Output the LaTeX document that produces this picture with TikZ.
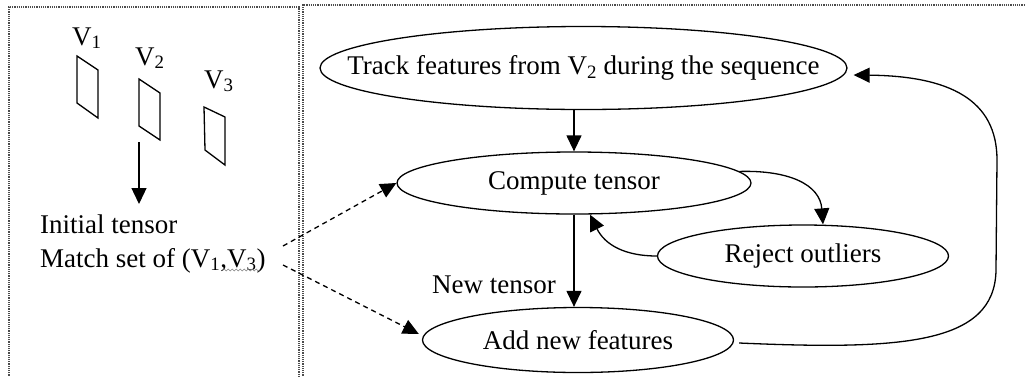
\documentclass[tikz,border=0pt]{standalone}
\usepackage{fontspec}
\setmainfont{Liberation Serif}
\usetikzlibrary{arrows.meta,shapes.geometric,decorations.pathmorphing}
\begin{document}
\begin{tikzpicture}[x=1pt,y=-1pt,
  every node/.style={font=\fontsize{27}{30}\selectfont},
  oval/.style={draw,ellipse,inner sep=0pt,line width=1.3pt},
  txt/.style={inner sep=0pt},
  frame/.style={draw=black!70,densely dotted,line width=1.2pt},
  arr/.style={line width=1.3pt,-{Triangle[width=15pt,length=16pt]}},
  darr/.style={arr,dash pattern=on 5pt off 4pt},
  plane/.style={draw,line width=1.3pt},
  lbl/.style={anchor=base west,inner sep=0pt}]
\useasboundingbox (0,0) rectangle (1026,376);
% frames
\draw[frame] (9,380) -- (9,7) -- (299,7) -- (299,380);
\draw[frame] (303,380) -- (303,5) -- (1030,5);
% image planes
\draw[plane] (77,56) -- (98,70) -- (98,118) -- (77,103) -- cycle;
\draw[plane] (139,79) -- (160,93) -- (160,140) -- (139,126) -- cycle;
\draw[plane] (204,107) -- (225,117) -- (225,165) -- (205,150) -- cycle;
\node[lbl] (v1) at (72,45) {V\textsubscript{1}};
\node[lbl] (v2) at (135,65) {V\textsubscript{2}};
\node[lbl] (v3) at (204,88) {V\textsubscript{3}};
\coordinate (p2) at (139,142);
\node[lbl] (init) at (40,233) {Initial tensor};
\node[lbl] (match) at (40,267) {Match set of (V\textsubscript{1},V\textsubscript{3})};
\coordinate (a2) at (139,204);
\draw[arr] (p2) -- (a2);
\draw[gray,decorate,decoration={snake,segment length=4pt,amplitude=1pt}] (223,270) -- (260,270);
% right side
\node[oval,minimum width=527pt,minimum height=83pt] (t) at (583.5,68) {};
\node[txt] (tt) at (t.center) {Track features from V\textsubscript{2} during the sequence};
\node[oval,minimum width=354pt,minimum height=62pt] (c) at (574,183) {};
\node[txt] (ct) at (c.center) {Compute tensor};
\node[oval,minimum width=291pt,minimum height=62pt] (r) at (803,256) {};
\node[txt] (rt) at (r.center) {Reject outliers};
\node[oval,minimum width=311pt,minimum height=65pt] (a) at (578,340) {};
\node[txt] (at) at (a.center) {Add new features};
\node[lbl] (nt) at (432,293) {New tensor};
\draw[arr] (c.north |- t.south) -- (c.north);
\draw[arr] (c.south) -- (c.south |- a.north);
\draw[arr] (r.west) .. controls (625,256) and (605,245) .. ([xshift=16pt]c.south);
\draw[arr] (c.4) .. controls (790,170) and (820,185) .. ([xshift=20pt]r.north);
\draw[arr] ([xshift=5pt,yshift=-3pt]a.east) .. controls (900,350) and (995,345) .. (996,270)
   -- (997,160) .. controls (997,100) and (950,76) .. ([xshift=6pt,yshift=-7pt]t.east);
\coordinate (d1) at (283,246);
\coordinate (d2) at (283,265);
\draw[darr] (d1) -- (c.west);
\draw[darr] (d2) -- ([xshift=-3pt,yshift=6pt]a.west);
\end{tikzpicture}
\end{document}
